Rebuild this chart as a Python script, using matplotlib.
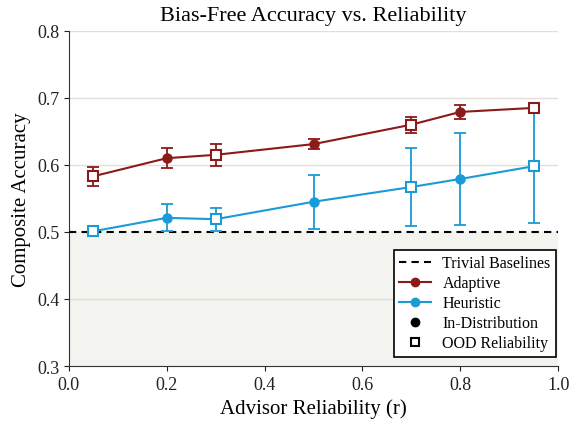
import matplotlib
matplotlib.use("Agg")
import matplotlib.pyplot as plt
from matplotlib.lines import Line2D
import numpy as np

plt.rcParams['font.family'] = ['Liberation Serif', 'DejaVu Serif']

reliability = [0.05, 0.2, 0.3, 0.5, 0.7, 0.8, 0.95]
adaptive = [0.583, 0.610, 0.615, 0.631, 0.660, 0.679, 0.685]
adaptive_err = [0.014, 0.015, 0.016, 0.007, 0.012, 0.011, 0.0]
heuristic = [0.501, 0.521, 0.519, 0.545, 0.567, 0.579, 0.598]
heuristic_err = [0.0, 0.020, 0.017, 0.040, 0.058, 0.068, 0.085]
in_dist = [False, True, False, True, False, True, False]
baseline = 0.5

red = '#8b1a1a'
blue = '#1a9bd7'

fig = plt.figure(figsize=(5.69, 4.27), dpi=100)
ax = fig.add_axes([0.121, 0.1405, 0.86, 0.785])

ax.axhspan(0.3, baseline, color='#f3f3ef', zorder=0)
for y in [0.4, 0.6, 0.7, 0.8]:
    ax.axhline(y, color='#e2dfd8', lw=1.0, zorder=0.5)
ax.axhline(baseline, color='black', ls=(0, (3.5, 2.5)), lw=1.5, zorder=3)

for vals, errs, c in [(adaptive, adaptive_err, red), (heuristic, heuristic_err, blue)]:
    ax.errorbar(reliability, vals, yerr=errs, color=c, lw=1.5, capsize=4, capthick=1.3,
                elinewidth=1.3, fmt='-', zorder=4)
    for x, v, idd in zip(reliability, vals, in_dist):
        if idd:
            ax.plot(x, v, 'o', color=c, ms=6.5, zorder=5)
        else:
            ax.plot(x, v, 's', mfc='white', mec=c, mew=1.5, ms=6.5, zorder=5)

ax.set_xlim(0, 1.0)
ax.set_ylim(0.3, 0.8)
ax.set_xticks([0.0, 0.2, 0.4, 0.6, 0.8, 1.0])
ax.set_yticks([0.3, 0.4, 0.5, 0.6, 0.7, 0.8])
ax.spines['top'].set_visible(False)
ax.spines['right'].set_visible(False)
ax.spines['left'].set_color('#333333')
ax.spines['bottom'].set_color('#333333')
ax.tick_params(labelsize=13, colors='#222222', length=3.5)
ax.set_xlabel('Advisor Reliability (r)', fontsize=15)
ax.set_ylabel('Composite Accuracy', fontsize=15)
ax.set_title('Bias-Free Accuracy vs. Reliability', fontsize=16, pad=8)

handles = [
    Line2D([], [], color='black', ls=(0, (3.5, 2.5)), lw=1.5),
    Line2D([], [], color=red, marker='o', lw=1.5, ms=6),
    Line2D([], [], color=blue, marker='o', lw=1.5, ms=6),
    Line2D([], [], color='black', marker='o', ls='none', ms=6),
    Line2D([], [], color='black', marker='s', mfc='white', mew=1.5, ls='none', ms=6),
]
labels = ['Trivial Baselines', 'Adaptive', 'Heuristic', 'In-Distribution', 'OOD Reliability']
leg = ax.legend(handles, labels, loc='lower right', fontsize=11.5, fancybox=False,
                framealpha=1, edgecolor='black', handlelength=2.0, borderpad=0.35,
                labelspacing=0.25, handletextpad=0.7, borderaxespad=0,
                bbox_to_anchor=(0.996, 0.027))
leg.get_frame().set_linewidth(1.2)

fig.savefig('out.png', dpi=100)
